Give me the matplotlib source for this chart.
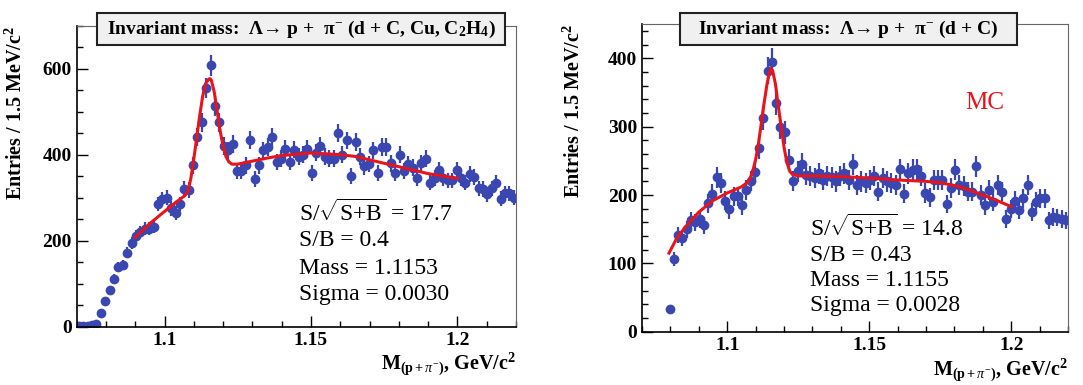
import matplotlib
matplotlib.use("Agg")
import matplotlib.pyplot as plt
import numpy as np
from matplotlib.patches import Rectangle
from matplotlib.ticker import MultipleLocator

plt.rcParams['font.family'] = ['Liberation Serif', 'DejaVu Serif']
plt.rcParams['mathtext.fontset'] = 'custom'
plt.rcParams['mathtext.rm'] = 'Liberation Serif'
plt.rcParams['mathtext.bf'] = 'Liberation Serif:bold'
plt.rcParams['mathtext.it'] = 'Liberation Serif:italic'

# ヒストグラムのビン (1.5 MeV)
x_lo = 1.07
bin_w = 0.0015

# 左: d + C, Cu, C2H4 (bin 0..99)
left_counts = [1, 2, 2, 4, 6, 32, 59, 86, 112, 139,
               144, 172, 194, 210, 220, 228, 228, 232, 285, 297,
               300, 275, 265, 285, 320, 318, 375, 440, 475, 555,
               608, 513, 475, 420, 410, 425, 362, 363, 375, 435,
               343, 375, 410, 418, 440, 383, 390, 413, 383, 412,
               395, 400, 413, 358, 405, 420, 395, 390, 390, 450,
               400, 433, 350, 430, 395, 373, 378, 410, 357, 418,
               418, 380, 358, 400, 362, 378, 370, 345, 380, 390,
               335, 345, 365, 345, 340, 340, 365, 345, 335, 355,
               348, 322, 320, 308, 322, 335, 298, 310, 310, 300]

# 右: d + C (bin 6..99)
right_first_bin = 6
right_counts = [33, 106, 141, 137, 150, 163, 160, 165, 156, 188,
                202, 226, 217, 192, 179, 198, 198, 185, 207, 221,
                234, 269, 313, 382, 395, 335, 299, 292, 251, 221,
                235, 246, 230, 228, 225, 232, 222, 228, 226, 220,
                228, 232, 222, 245, 215, 220, 218, 222, 228, 205,
                225, 220, 218, 215, 238, 202, 232, 237, 238, 228,
                203, 197, 222, 222, 222, 187, 210, 237, 215, 213,
                205, 205, 242, 200, 185, 207, 190, 215, 205, 165,
                180, 192, 178, 195, 215, 175, 190, 195, 195, 163,
                168, 167, 165, 163]

# フィット曲線
left_fit_x = [1.090, 1.095, 1.100, 1.104, 1.107, 1.108, 1.109, 1.110, 1.111,
              1.112, 1.113, 1.114, 1.115, 1.1155, 1.116, 1.117, 1.118, 1.119,
              1.120, 1.121, 1.122, 1.123, 1.125, 1.130, 1.135, 1.140, 1.150,
              1.160, 1.165, 1.170, 1.180, 1.190, 1.200]
left_fit_y = [208, 240, 268, 290, 305, 315, 345, 390, 440,
              490, 535, 565, 575, 577, 573, 545, 500, 455,
              420, 395, 383, 378, 378, 385, 392, 398, 404,
              400, 396, 388, 372, 356, 345]

right_fit_x = [1.0795, 1.082, 1.085, 1.090, 1.095, 1.100, 1.105, 1.107, 1.108,
               1.109, 1.110, 1.111, 1.112, 1.113, 1.114, 1.115, 1.1155, 1.116,
               1.117, 1.118, 1.119, 1.120, 1.121, 1.122, 1.123, 1.125, 1.130,
               1.140, 1.150, 1.160, 1.170, 1.175, 1.180, 1.185, 1.190, 1.195, 1.200]
right_fit_y = [115, 135, 152, 175, 192, 203, 212, 218, 224,
               235, 252, 275, 305, 335, 362, 382, 385, 382,
               362, 330, 300, 270, 248, 235, 230, 228, 228,
               227, 225, 222, 220, 218, 214, 208, 200, 192, 183]

left_stats = ["S/$\\sqrt{\\mathrm{S{+}B}}$ = 17.7", "S/B = 0.4",
              "Mass = 1.1153", "Sigma = 0.0030"]
right_stats = ["S/$\\sqrt{\\mathrm{S{+}B}}$ = 14.8", "S/B = 0.43",
               "Mass = 1.1155", "Sigma = 0.0028"]

left_title = "Invariant mass:  Λ→ p +  π$^{-}$ (d + C, Cu, C$_{\\mathbf{2}}$H$_{\\mathbf{4}}$)"
right_title = "Invariant mass:  Λ→ p +  π$^{-}$ (d + C)"

ylab = r"Entries / 1.5 MeV/c$^{\mathbf{2}}$"
xlab = r"M$_{\mathbf{(p+}\pi^{-}\mathbf{)}}$, GeV/c$^{\mathbf{2}}$"

blue = '#3a47b0'
red = '#e8141a'

fig = plt.figure(figsize=(10.83, 3.85), dpi=100)


def draw_panel(rect, counts, first_bin, fit_x, fit_y, ymax, ymajor, yminor,
               stats, stats_x, stats_y, ylab_x, xlab_y):
    ax = fig.add_axes(rect)
    idx = np.arange(first_bin, first_bin + len(counts))
    xc = x_lo + bin_w * (idx + 0.5)
    y = np.array(counts, dtype=float)
    ax.errorbar(xc, y, yerr=np.sqrt(y), fmt='o', color=blue, ms=6,
                elinewidth=1.6, capsize=0, zorder=2)
    ax.plot(fit_x, fit_y, color=red, lw=2.2, zorder=3)
    ax.set_xlim(1.07, 1.22)
    ax.set_ylim(0, ymax)
    ax.xaxis.set_minor_locator(MultipleLocator(0.01))
    ax.yaxis.set_major_locator(MultipleLocator(ymajor))
    ax.yaxis.set_minor_locator(MultipleLocator(yminor))
    ax.set_xticks([1.1, 1.15, 1.2])
    ax.set_xticklabels(['1.1', '1.15', '1.2'])
    ax.tick_params(which='both', direction='in', top=False, right=False,
                   labelsize=14, width=1)
    ax.tick_params(which='major', length=8)
    ax.tick_params(which='minor', length=4)
    for lab in ax.get_xticklabels() + ax.get_yticklabels():
        lab.set_fontweight('bold')
    for s in ['top', 'right']:
        ax.spines[s].set_color('#666666')
        ax.spines[s].set_linewidth(0.8)
    for s in ['left', 'bottom']:
        ax.spines[s].set_linewidth(1.2)
    ax.set_ylabel(ylab, fontsize=14.5, fontweight='bold', loc='top')
    ax.yaxis.set_label_coords(ylab_x, 1.0)
    ax.set_xlabel(xlab, fontsize=14.5, fontweight='bold', loc='right')
    ax.xaxis.set_label_coords(1.0, xlab_y)
    ax.xaxis.label.set_va('center')
    for t, yy in zip(stats, stats_y):
        ax.text(stats_x, yy, t, transform=ax.transAxes, fontsize=17,
                ha='left', va='center')
    return ax


axL = draw_panel([0.0708, 0.1514, 0.4056, 0.782], left_counts, 0,
                 left_fit_x, left_fit_y, 700, 200, 50,
                 left_stats, 0.505, [0.378, 0.285, 0.195, 0.108],
                 -0.113, -0.127)
axR = draw_panel([0.5928, 0.1384, 0.3934, 0.7987], right_counts, right_first_bin,
                 right_fit_x, right_fit_y, 450, 100, 20,
                 right_stats, 0.394, [0.337, 0.249, 0.165, 0.084],
                 -0.134, -0.125)
axR.text(0.805, 0.744, "MC", transform=axR.transAxes, color=red,
         fontsize=18, ha='center', va='center')

# タイトルボックス
for x0, w, txt in [(0.0896, 0.3767, left_title), (0.6279, 0.3112, right_title)]:
    fig.add_artist(Rectangle((x0, 0.8831), w, 0.0831, transform=fig.transFigure,
                             facecolor='#f0f0f0', edgecolor='#222222', lw=1.5,
                             zorder=5))
    fig.text(x0 + w / 2, 0.9247, txt, fontsize=14, fontweight='bold',
             ha='center', va='center', zorder=6)

plt.savefig("out.png", dpi=100)
plt.close()
